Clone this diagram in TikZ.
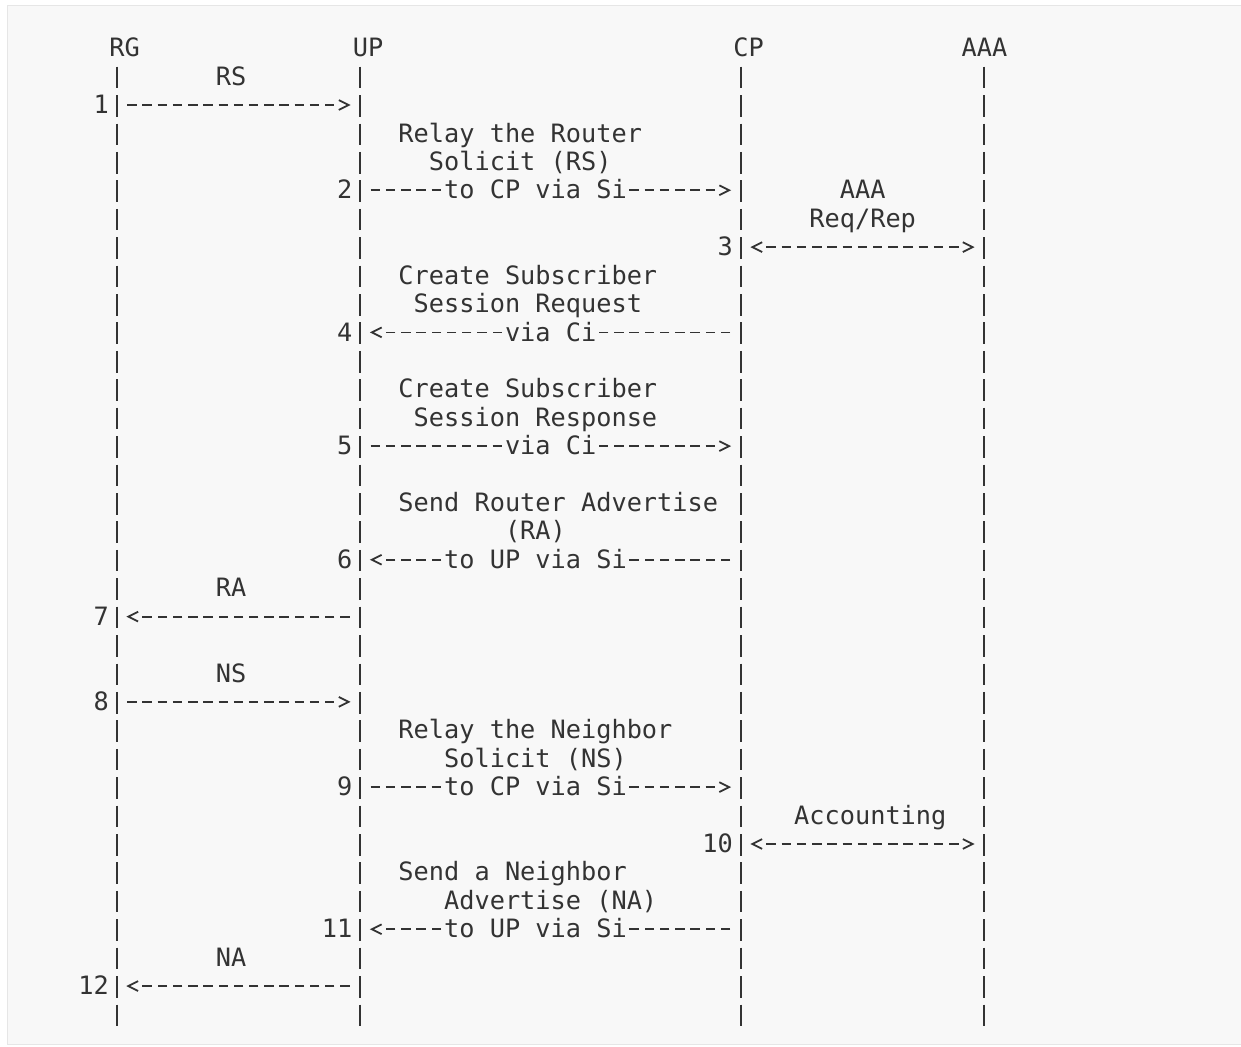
\documentclass[tikz,border=0pt]{standalone}
\usepackage{fontspec}
\usepackage{xcolor}
\newfontfamily\seqfont{DejaVu Sans Mono}
\newcommand\seqsize{\fontsize{25.28pt}{28.42pt}\selectfont}
\definecolor{ink}{HTML}{333333}
\definecolor{panel}{HTML}{F8F8F8}
\definecolor{panelrule}{HTML}{E6E6E6}
\pgfdeclarearrow{
  name = Chev,
  setup code = {
    \pgfarrowssettipend{0pt}
    \pgfarrowssetbackend{-15.22pt}
    \pgfarrowssetlineend{-15.22pt}
    \pgfarrowssetvisualbackend{-15.22pt}
  },
  drawing code = {
    \pgfsetdash{}{0pt}
    \pgfsetlinewidth{1.8pt}
    \pgfsetmiterjoin
    \pgfsetbuttcap
    \pgfpathmoveto{\pgfqpoint{-13.8pt}{4.9pt}}
    \pgfpathlineto{\pgfqpoint{-4pt}{0pt}}
    \pgfpathlineto{\pgfqpoint{-13.8pt}{-4.9pt}}
    \pgfusepathqstroke
  }
}

\begin{document}
\begin{tikzpicture}[x=15.22pt, y=-28.42pt,
  txt/.style={anchor=base west, inner sep=0pt, yshift=-8.6pt, text=ink, font=\seqfont\seqsize},
  num/.style={txt, anchor=base east},
  lbl/.style={txt, fill=panel},
  port/.style={inner sep=0pt, outer sep=0pt, minimum width=15.22pt, minimum height=0pt},
  lifeline/.style={draw=ink, line width=1.8pt, dash pattern=on 21.6pt off 6.82pt, shorten <=9.9pt},
  msg/.style={draw=ink, line width=1.8pt, dash pattern=on 9.4pt off 5.82pt, dash phase=12.31pt}]
\useasboundingbox (0pt,0pt) rectangle (1241pt,-1046pt);
\fill[panel] (7pt,-5pt) rectangle (1260pt,-1045pt);
\draw[panelrule, line width=1pt] (1260pt,-5.5pt) -- (7.5pt,-5.5pt) -- (7.5pt,-1044.5pt) -- (1260pt,-1044.5pt);

\begin{scope}[shift={(116.7pt,-48.2pt)}]
\node[txt] (RG) at (-0.5,0) {RG};
\node[txt] (UP) at (15.5,0) {UP};
\node[txt] (CP) at (40.5,0) {CP};
\node[txt] (AAA) at (55.5,0) {AAA};
\foreach \who/\col in {RG/0, UP/16, CP/41, AAA/57}{
  \coordinate (\who-end) at (\col,34.412);
  \draw[lifeline] (\who.base -| \who-end) -- (\who-end);
}

\foreach \r in {2,20,23,33} \node[port] (RG-\r) at (0,\r) {};
\foreach \r in {2,5,10,14,18,20,23,26,31,33} \node[port] (UP-\r) at (16,\r) {};
\foreach \r in {5,7,10,14,18,26,28,31} \node[port] (CP-\r) at (41,\r) {};
\foreach \r in {7,28} \node[port] (AAA-\r) at (57,\r) {};

\node[txt] (rs) at (6.5,1) {RS};
\draw[msg,-Chev] (RG-2.east) -- (UP-2.west);
\node[num] (n1) at (RG-2.west) {1};

\node[txt] (relayrs1) at (18.5,3) {Relay the Router};
\node[txt] (relayrs2) at (20.5,4) {Solicit (RS)};
\draw[msg,-Chev] (UP-5.east) -- (CP-5.west);
\node[lbl] (si2) at (21.5,5) {to CP via Si};
\node[num] (n2) at (UP-5.west) {2};

\node[txt] (aaa1) at (47.5,5) {AAA};
\node[txt] (aaa2) at (45.5,6) {Req/Rep};
\draw[msg,Chev-Chev] (CP-7.east) -- (AAA-7.west);
\node[num] (n3) at (CP-7.west) {3};

\node[txt] (req1) at (18.5,8) {Create Subscriber};
\node[txt] (req2) at (19.5,9) {Session Request};
\draw[msg,-Chev] (CP-10.west) -- (UP-10.east);
\node[lbl] (ci4) at (25.5,10) {via Ci};
\node[num] (n4) at (UP-10.west) {4};

\node[txt] (rep1) at (18.5,12) {Create Subscriber};
\node[txt] (rep2) at (19.5,13) {Session Response};
\draw[msg,-Chev] (UP-14.east) -- (CP-14.west);
\node[lbl] (ci5) at (25.5,14) {via Ci};
\node[num] (n5) at (UP-14.west) {5};

\node[txt] (sendra1) at (18.5,16) {Send Router Advertise};
\node[txt] (sendra2) at (25.5,17) {(RA)};
\draw[msg,-Chev] (CP-18.west) -- (UP-18.east);
\node[lbl] (si6) at (21.5,18) {to UP via Si};
\node[num] (n6) at (UP-18.west) {6};

\node[txt] (ra) at (6.5,19) {RA};
\draw[msg,-Chev] (UP-20.west) -- (RG-20.east);
\node[num] (n7) at (RG-20.west) {7};

\node[txt] (ns) at (6.5,22) {NS};
\draw[msg,-Chev] (RG-23.east) -- (UP-23.west);
\node[num] (n8) at (RG-23.west) {8};

\node[txt] (relayns1) at (18.5,24) {Relay the Neighbor};
\node[txt] (relayns2) at (21.5,25) {Solicit (NS)};
\draw[msg,-Chev] (UP-26.east) -- (CP-26.west);
\node[lbl] (si9) at (21.5,26) {to CP via Si};
\node[num] (n9) at (UP-26.west) {9};

\node[txt] (acct) at (44.5,27) {Accounting};
\draw[msg,Chev-Chev] (CP-28.east) -- (AAA-28.west);
\node[num] (n10) at (CP-28.west) {10};

\node[txt] (sendna1) at (18.5,29) {Send a Neighbor};
\node[txt] (sendna2) at (21.5,30) {Advertise (NA)};
\draw[msg,-Chev] (CP-31.west) -- (UP-31.east);
\node[lbl] (si11) at (21.5,31) {to UP via Si};
\node[num] (n11) at (UP-31.west) {11};

\node[txt] (na) at (6.5,32) {NA};
\draw[msg,-Chev] (UP-33.west) -- (RG-33.east);
\node[num] (n12) at (RG-33.west) {12};
\end{scope}
\end{tikzpicture}
\end{document}
